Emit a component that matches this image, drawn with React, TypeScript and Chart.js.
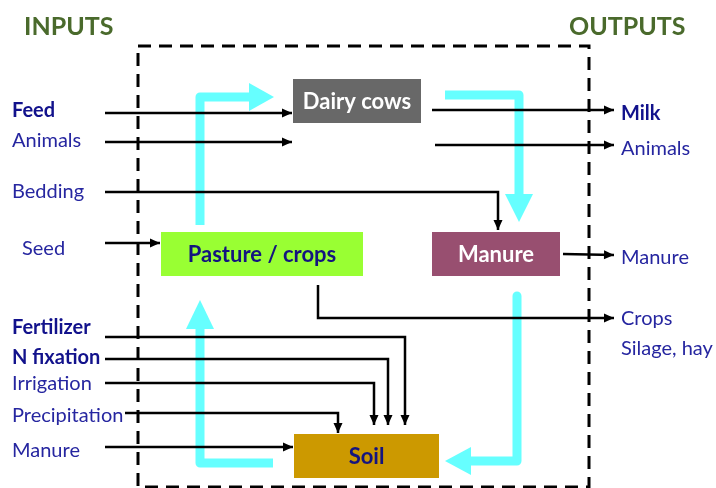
import React, { useEffect, useRef } from "react";
import { Chart, registerables } from "chart.js";

Chart.register(...registerables);

const W = 716;
const H = 488;

// ---- Compartments (boxes) ----
const boxLabels = ["Dairy cows", "Pasture / crops", "Manure", "Soil"];
const boxLeft = [293, 161, 432, 294];
const boxRight = [421, 363, 560, 439];
const boxTop = [79, 232, 232, 434];
const boxBottom = [123, 276, 276, 478];
const boxFill = ["#686868", "#99FF33", "#984F70", "#CC9900"];
const boxTextColor = ["#FFFFFF", "#14147F", "#FFFFFF", "#14147F"];

// ---- Headers ----
const headerLabels = ["INPUTS", "OUTPUTS"];
const headerX = [24, 569];
const headerBaseline = [35, 35];

// ---- Input labels (left) ----
const inputLabels = ["Feed", "Animals", "Bedding", "Seed", "Fertilizer", "N fixation", "Irrigation", "Precipitation", "Manure"];
const inputBold = [true, false, false, false, true, true, false, false, false];
const inputX = [12, 12, 12, 22, 12, 12, 12, 12, 12];
const inputBaseline = [117, 147, 198, 255, 334, 364, 390, 422, 457];

// ---- Output labels (right) ----
const outputLabels = ["Milk", "Animals", "Manure", "Crops", "Silage, hay"];
const outputBold = [true, false, false, false, false];
const outputX = [621, 621, 621, 621, 621];
const outputBaseline = [120, 155, 264, 325, 355];

// ---- Black flow arrows (polyline, ends at arrow tip) ----
const flowX = [
  [105, 292],
  [105, 292],
  [105, 498, 498],
  [105, 160],
  [105, 405, 405],
  [105, 388, 388],
  [105, 374, 374],
  [125, 338, 338],
  [105, 293],
  [432, 614],
  [435, 614],
  [563, 614],
  [318, 318, 614],
];
const flowY = [
  [113, 113],
  [142, 142],
  [192, 192, 230],
  [243, 243],
  [337, 337, 425],
  [359, 359, 425],
  [383, 383, 425],
  [413, 413, 433],
  [447, 447],
  [110, 110],
  [145, 145],
  [254, 255],
  [285, 318, 318],
];

// ---- Cyan cycle arrows (polyline to head base, then tip) ----
const cycleX = [
  [200, 200, 249],
  [445, 519, 519],
  [517, 517, 471],
  [273, 200, 200],
];
const cycleY = [
  [225, 97, 97],
  [95, 95, 194],
  [296, 461, 461],
  [463, 463, 329],
];
const cycleTipX = [274, 519, 445, 200];
const cycleTipY = [97, 222, 461, 300];

// ---- System boundary (dashed) ----
const boundaryX = [138, 589, 589, 138, 138];
const boundaryY = [46, 46, 487, 487, 46];

const CYAN = "#66FFFF";
const BLUE = "#2626A0";
const BLUE_BOLD = "#12128C";
const GREEN = "#4A6A2C";
const FONT = "Lato, 'Open Sans', sans-serif";

function pts(xs: number[], ys: number[]) {
  return xs.map((x, i) => ({ x, y: ys[i] }));
}

const diagramPlugin = {
  id: "diagram",
  beforeDatasetsDraw(chart: any) {
    const ctx = chart.ctx;
    const sx = chart.scales.x;
    const sy = chart.scales.y;
    ctx.save();
    for (let i = 0; i < boxLabels.length; i++) {
      const x0 = sx.getPixelForValue(boxLeft[i]);
      const x1 = sx.getPixelForValue(boxRight[i]);
      const y0 = sy.getPixelForValue(boxTop[i]);
      const y1 = sy.getPixelForValue(boxBottom[i]);
      ctx.fillStyle = boxFill[i];
      ctx.fillRect(x0, y0, x1 - x0, y1 - y0);
    }
    ctx.restore();
  },
  afterDatasetsDraw(chart: any) {
    const ctx = chart.ctx;
    const sx = chart.scales.x;
    const sy = chart.scales.y;
    const px = (v: number) => sx.getPixelForValue(v);
    const py = (v: number) => sy.getPixelForValue(v);

    const head = (fx: number, fy: number, tx: number, ty: number, len: number, half: number, color: string) => {
      const ax = px(tx), ay = py(ty);
      const bx = px(fx), by = py(fy);
      const dx = ax - bx, dy = ay - by;
      const d = Math.hypot(dx, dy) || 1;
      const ux = dx / d, uy = dy / d;
      const baseX = ax - ux * len, baseY = ay - uy * len;
      ctx.beginPath();
      ctx.moveTo(ax, ay);
      ctx.lineTo(baseX - uy * half, baseY + ux * half);
      ctx.lineTo(baseX + uy * half, baseY - ux * half);
      ctx.closePath();
      ctx.fillStyle = color;
      ctx.fill();
    };

    ctx.save();
    // cyan heads
    for (let i = 0; i < cycleX.length; i++) {
      const n = cycleX[i].length;
      const fx = cycleX[i][n - 1], fy = cycleY[i][n - 1];
      const d = Math.hypot(cycleTipX[i] - fx, cycleTipY[i] - fy);
      head(fx, fy, cycleTipX[i], cycleTipY[i], d, 14, CYAN);
    }
    // black heads
    for (let i = 0; i < flowX.length; i++) {
      const n = flowX[i].length;
      head(flowX[i][n - 2], flowY[i][n - 2], flowX[i][n - 1], flowY[i][n - 1], 10, 4.5, "#000000");
    }

    // box labels
    ctx.textAlign = "center";
    ctx.textBaseline = "middle";
    ctx.font = `bold 22px ${FONT}`;
    for (let i = 0; i < boxLabels.length; i++) {
      ctx.fillStyle = boxTextColor[i];
      const cx = (px(boxLeft[i]) + px(boxRight[i])) / 2;
      const cy = (py(boxTop[i]) + py(boxBottom[i])) / 2 + 1;
      ctx.fillText(boxLabels[i], cx, cy);
    }

    // headers
    ctx.textAlign = "left";
    ctx.textBaseline = "alphabetic";
    ctx.font = `bold 25px ${FONT}`;
    ctx.fillStyle = GREEN;
    for (let i = 0; i < headerLabels.length; i++) {
      ctx.fillText(headerLabels[i], px(headerX[i]), py(headerBaseline[i]));
    }

    // input labels
    for (let i = 0; i < inputLabels.length; i++) {
      ctx.font = `${inputBold[i] ? "bold " : ""}20px ${FONT}`;
      ctx.fillStyle = inputBold[i] ? BLUE_BOLD : BLUE;
      ctx.fillText(inputLabels[i], px(inputX[i]), py(inputBaseline[i]));
    }
    // output labels
    for (let i = 0; i < outputLabels.length; i++) {
      ctx.font = `${outputBold[i] ? "bold " : ""}20px ${FONT}`;
      ctx.fillStyle = outputBold[i] ? BLUE_BOLD : BLUE;
      ctx.fillText(outputLabels[i], px(outputX[i]), py(outputBaseline[i]));
    }
    ctx.restore();
  },
};

export default function App() {
  const ref = useRef<HTMLCanvasElement | null>(null);

  useEffect(() => {
    if (!ref.current) return;
    const datasets: any[] = [];
    cycleX.forEach((xs, i) => {
      datasets.push({
        data: pts(xs, cycleY[i]),
        showLine: true,
        borderColor: CYAN,
        borderWidth: 9,
        borderJoinStyle: "round",
        borderCapStyle: "butt",
        pointRadius: 0,
        fill: false,
        clip: false,
        order: 3,
      });
    });
    flowX.forEach((xs, i) => {
      datasets.push({
        data: pts(xs, flowY[i]),
        showLine: true,
        borderColor: "#000000",
        borderWidth: 2.5,
        borderJoinStyle: "miter",
        borderCapStyle: "butt",
        pointRadius: 0,
        fill: false,
        clip: false,
        order: 1,
      });
    });
    datasets.push({
      data: pts(boundaryX, boundaryY),
      showLine: true,
      borderColor: "#000000",
      borderWidth: 3,
      borderDash: [13, 8],
      pointRadius: 0,
      fill: false,
      clip: false,
      order: 2,
    });

    const chart = new Chart(ref.current, {
      type: "scatter",
      data: { datasets },
      options: {
        responsive: false,
        animation: false,
        events: [],
        layout: { padding: 0 },
        plugins: { legend: { display: false }, tooltip: { enabled: false } },
        scales: {
          x: { type: "linear", min: 0, max: W, display: false },
          y: { type: "linear", min: 0, max: H, reverse: true, display: false },
        },
      },
      plugins: [diagramPlugin],
    } as any);
    return () => chart.destroy();
  }, []);

  return (
    <div style={{ position: "absolute", left: 0, top: 0, width: W, height: H, background: "#ffffff" }}>
      <canvas ref={ref} width={W} height={H} style={{ display: "block" }} />
    </div>
  );
}
